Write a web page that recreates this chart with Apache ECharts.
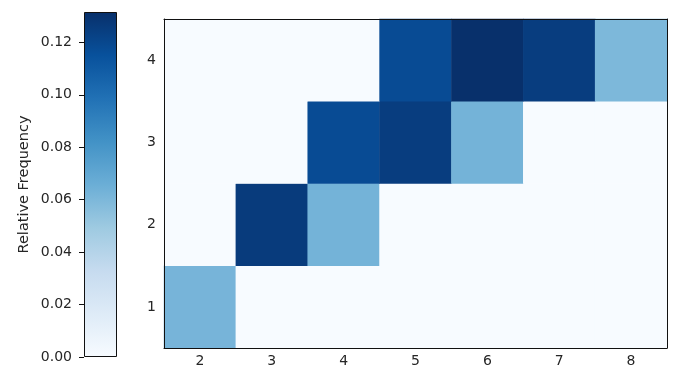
<!DOCTYPE html>
<html>
<head>
<meta charset="utf-8">
<script src="https://cdn.jsdelivr.net/npm/echarts@6/dist/echarts.min.js"></script>
<style>
html,body{margin:0;padding:0;background:#fff;}
#chart{width:676px;height:382px;}
</style>
</head>
<body>
<div id="chart"></div>
<script>
const xLabels = ['2', '3', '4', '5', '6', '7', '8'];
const yLabels = ['1', '2', '3', '4'];
// relative frequency per row (y = 1..4), columns x = 2..8
const freqY1 = [0.062, 0, 0, 0, 0, 0, 0];
const freqY2 = [0, 0.126, 0.063, 0, 0, 0, 0];
const freqY3 = [0, 0, 0.118, 0.125, 0.063, 0, 0];
const freqY4 = [0, 0, 0, 0.118, 0.1316, 0.125, 0.06];
const colorMin = 0;
const colorMax = 0.1316;
const colorbarTickStep = 0.02;
const bluesColors = ['#f7fbff', '#deebf7', '#c6dbef', '#9ecae1', '#6baed6', '#4292c6', '#2171b5', '#08519c', '#08306b'];

const rows = [freqY1, freqY2, freqY3, freqY4];
const heatData = [];
rows.forEach((row, yi) => row.forEach((v, xi) => heatData.push([xi, yi, v])));

const gradStops = bluesColors.map((c, i) => ({ offset: 1 - i / (bluesColors.length - 1), color: c }));

const txt = '#262626';
const font = 'DejaVu Sans';
const chart = echarts.init(document.getElementById('chart'), null, { renderer: 'canvas' });
chart.setOption({
  animation: false,
  backgroundColor: '#fff',
  textStyle: { fontFamily: font },
  grid: [
    { left: 84, top: 12, width: 33, height: 345 },
    { left: 164, right: 9, top: 19, bottom: 34 }
  ],
  xAxis: [
    { gridIndex: 0, type: 'category', data: ['cb'], show: false },
    {
      gridIndex: 1, type: 'category', data: xLabels, z: 10,
      axisLine: { lineStyle: { color: '#111', width: 1 } },
      axisTick: { alignWithLabel: true, length: 4, lineStyle: { color: '#111' } },
      axisLabel: { color: txt, fontSize: 14, fontFamily: font, margin: 6 },
      splitLine: { show: false }
    },
    {
      gridIndex: 1, type: 'category', data: xLabels, position: 'top', z: 10,
      axisLine: { lineStyle: { color: '#111', width: 1 } },
      axisTick: { show: false }, axisLabel: { show: false }, splitLine: { show: false }
    }
  ],
  yAxis: [
    {
      gridIndex: 0, type: 'value', min: colorMin, max: colorMax, interval: colorbarTickStep,
      name: 'Relative Frequency', nameLocation: 'middle', nameRotate: 90, nameGap: 52,
      nameTextStyle: { color: txt, fontSize: 14.5, fontFamily: font },
      axisLine: { show: false },
      axisTick: { show: true, length: 5, lineStyle: { color: '#111' } },
      axisLabel: { color: txt, fontSize: 14, fontFamily: font, margin: 12, showMaxLabel: false,
        formatter: v => v.toFixed(2) },
      splitLine: { show: false }
    },
    {
      gridIndex: 1, type: 'category', data: yLabels, z: 10,
      axisLine: { lineStyle: { color: '#111', width: 1 } },
      axisTick: { alignWithLabel: true, length: 4, lineStyle: { color: '#111' } },
      axisLabel: { color: txt, fontSize: 14, fontFamily: font, margin: 8 },
      splitLine: { show: false }
    },
    {
      gridIndex: 1, type: 'category', data: yLabels, position: 'right', z: 10,
      axisLine: { lineStyle: { color: '#111', width: 1 } },
      axisTick: { show: false }, axisLabel: { show: false }, splitLine: { show: false }
    }
  ],
  visualMap: {
    type: 'continuous', show: false, min: colorMin, max: colorMax, seriesIndex: 1,
    inRange: { color: bluesColors }
  },
  series: [
    {
      type: 'bar', xAxisIndex: 0, yAxisIndex: 0, barWidth: '100%',
      data: [colorMax], silent: true,
      itemStyle: {
        color: new echarts.graphic.LinearGradient(0, 0, 0, 1, gradStops),
        borderColor: '#111', borderWidth: 1
      }
    },
    {
      type: 'heatmap', xAxisIndex: 1, yAxisIndex: 1, data: heatData,
      itemStyle: { borderWidth: 0 }
    }
  ]
});
</script>
</body>
</html>
